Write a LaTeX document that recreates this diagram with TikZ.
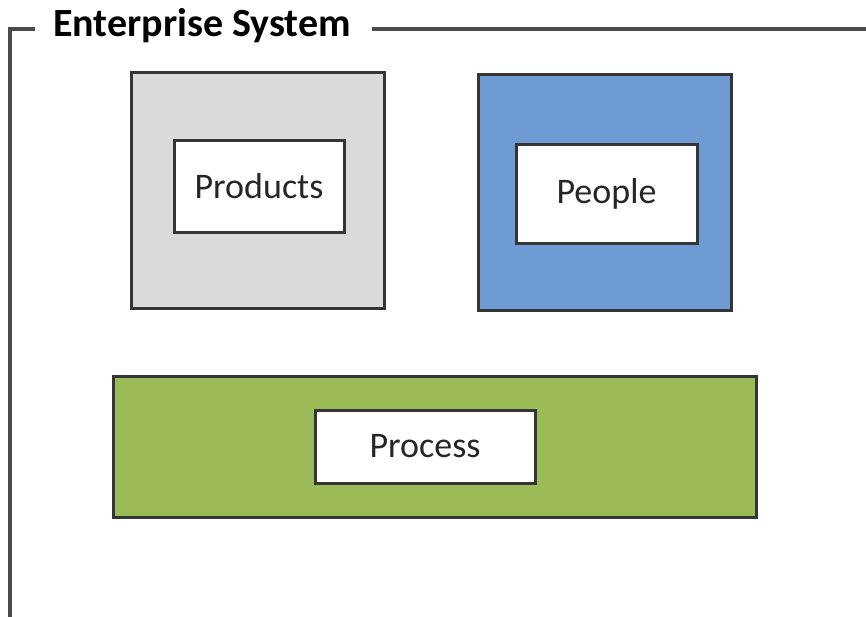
\documentclass[tikz,border=0pt]{standalone}
\usepackage{fontspec}
\setmainfont{Carlito}
\usepackage{tikz}
\definecolor{boxgray}{HTML}{DADADA}
\definecolor{boxblue}{HTML}{6E9BD4}
\definecolor{boxgreen}{HTML}{9BBB59}
\definecolor{edge}{HTML}{353535}
\tikzset{
  outerbox/.style={draw=edge, line width=1.5pt, inner sep=0pt},
  innerbox/.style={draw=edge, line width=1.5pt, fill=white, inner sep=0pt, text=black!85, font=\fontsize{18}{20}\selectfont},
  frameline/.style={draw=black!70, line width=1.7pt}
}
\begin{document}
\begin{tikzpicture}[x=0.5pt, y=-0.5pt]
            \useasboundingbox (0,0) rectangle (866,616);

            % frame with title
            \node (title) at (202,26) {\fontsize{20}{22}\selectfont\bfseries Enterprise System};
            \coordinate (f1) at (35,29);
            \coordinate (f2) at (10,29);
            \coordinate (f3) at (10,620);
            \coordinate (f4) at (372,29);
            \coordinate (f5) at (870,29);
            \draw[frameline] (f1)--(f2)--(f3);
            \draw[frameline] (f4)--(f5);

            % products
            \node[outerbox, fill=boxgray, minimum width=126.5pt, minimum height=118pt] (products) at (257.5,190) {};
            \node[innerbox, minimum width=85pt, minimum height=46pt] (productsLabel) at (259,186) {Products};

            % people
            \node[outerbox, fill=boxblue, minimum width=126.5pt, minimum height=118pt] (people) at (604.5,192) {};
            \node[innerbox, minimum width=90.5pt, minimum height=49.5pt] (peopleLabel) at (606.5,193.5) {People};

            % process
            \node[outerbox, fill=boxgreen, minimum width=321.5pt, minimum height=70.5pt] (process) at (434.5,446.5) {};
            \node[innerbox, minimum width=110pt, minimum height=36.5pt] (processLabel) at (425,446.5) {Process};
        \end{tikzpicture}
\end{document}
